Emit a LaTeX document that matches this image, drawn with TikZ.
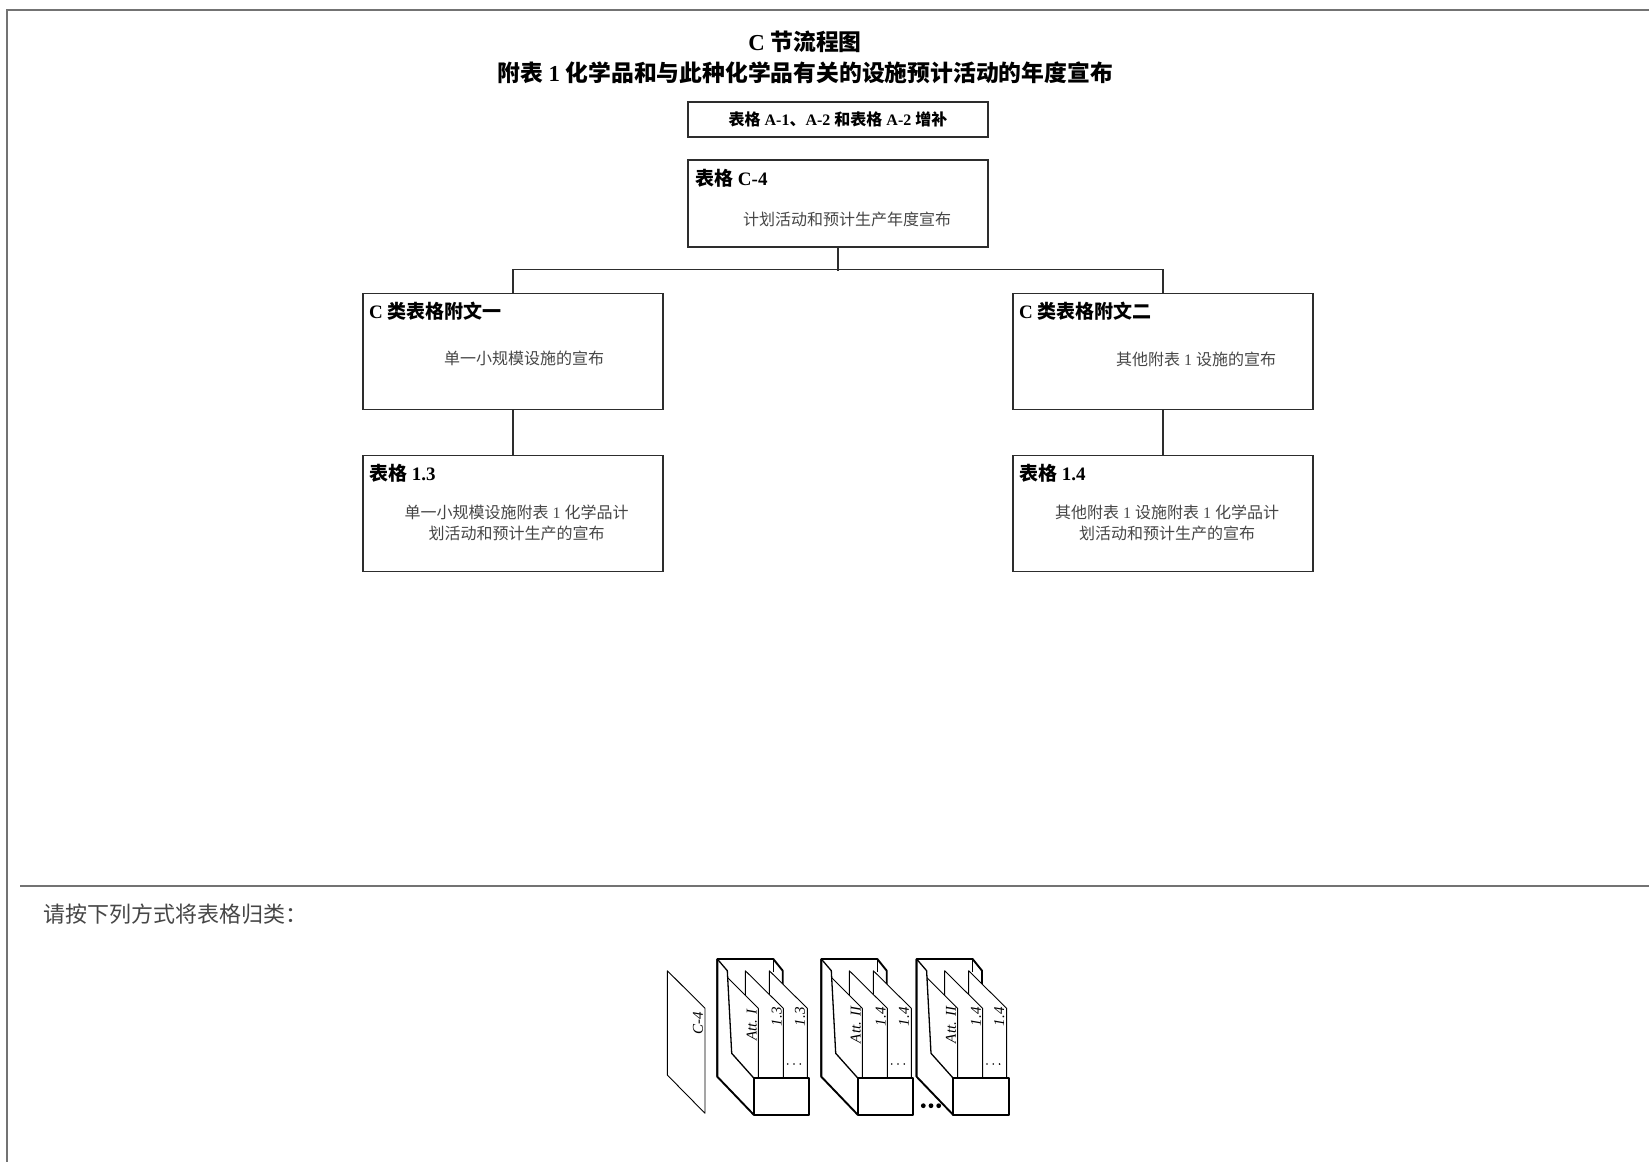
\documentclass[tikz,border=0pt]{standalone}
\usepackage{fontspec}
\setmainfont{Liberation Serif}
\newfontfamily\cjk{Noto Sans CJK SC}
\newcommand\zw[1]{{\cjk #1}}
\definecolor{ink}{RGB}{45,45,45}
\definecolor{rule}{RGB}{115,115,115}
\definecolor{bodytext}{RGB}{70,70,70}

\begin{document}
\begin{tikzpicture}[x=1pt,y=-1pt,
  box/.style={draw=ink, line width=1.3pt, minimum width=300pt, inner sep=0pt},
  head/.style={anchor=west, inner sep=0pt, font=\bfseries\fontsize{19}{23}\selectfont},
  body/.style={inner sep=0pt, text=bodytext, align=center, font=\fontsize{16}{21}\selectfont},
  link/.style={draw=ink, line width=1.3pt},
  fthick/.style={line width=1.9pt, line join=round},
  fthin/.style={line width=0.9pt, line join=round},
  sheet/.style={fthin, fill=white},
  tag/.style={inner sep=0pt, rotate=90, font=\itshape\fontsize{15}{17}\selectfont}
]
\fill[white] (0,0) rectangle (1649,1162);
\useasboundingbox (0,0) rectangle (1649,1162);

% page frame and separating rule
\draw[rule, line width=2pt] (1649,10) -- (7,10) -- (7,1162);
\draw[rule, line width=1.5pt] (20,886) -- (1649,886);

% titles
\node[inner sep=0pt, font=\bfseries\fontsize{22.8}{26}\selectfont] (t1) at (805,42) {C \zw{节流程图}};
\node[inner sep=0pt, font=\bfseries\fontsize{22.8}{26}\selectfont] (t2) at (805,73)
  {\zw{附表} 1 \zw{化学品和与此种化学品有关的设施预计活动的年度宣布}};

% flow boxes
\node[box, minimum height=35pt, font=\bfseries\fontsize{16}{20}\selectfont] (a12) at (838,119.5)
  {\zw{表格} A-1\zw{、}A-2 \zw{和表格} A-2 \zw{增补}};
\node[box, minimum height=87pt] (c4) at (838,203.5) {};
\node[box, minimum height=116pt] (att1) at (513,351.3) {};
\node[box, minimum height=116pt] (att2) at (1163,351.3) {};
\node[box, minimum height=116pt] (f13) at (513,513.8) {};
\node[box, minimum height=116pt] (f14) at (1163,513.8) {};

% box headings
\node[head] (c4h) at (695,178) {\zw{表格} C-4};
\node[head] (att1h) at (369,311) {C \zw{类表格附文一}};
\node[head] (att2h) at (1019,311) {C \zw{类表格附文二}};
\node[head] (f13h) at (369,473) {\zw{表格} 1.3};
\node[head] (f14h) at (1019,473) {\zw{表格} 1.4};

% box contents
\node[body] (c4b) at (847,219) {\zw{计划活动和预计生产年度宣布}};
\node[body] (att1b) at (524,358) {\zw{单一小规模设施的宣布}};
\node[body] (att2b) at (1196,359) {\zw{其他附表} 1 \zw{设施的宣布}};
\node[body] (f13b) at (516.5,522.5)
  {\zw{单一小规模设施附表} 1 \zw{化学品计}\\\zw{划活动和预计生产的宣布}};
\node[body] (f14b) at (1167,522.5)
  {\zw{其他附表} 1 \zw{设施附表} 1 \zw{化学品计}\\\zw{划活动和预计生产的宣布}};

% connectors
\draw[link] (c4.south) -- ++(0,23.5);
\draw[link] (att1.north) -- ++(0,-23) -| (att2.north);
\draw[link] (att1.south) -- (f13.north);
\draw[link] (att2.south) -- (f14.north);

% filing instruction
\node[anchor=west, inner sep=0pt, text=bodytext, font=\fontsize{22}{26}\selectfont] (note) at (43,914)
  {\zw{请按下列方式将表格归类：}};

% loose form C-4
\draw[sheet] (667.3,970.7) -- (705,1008.3) -- (705,1113.3) -- (667.3,1075) -- cycle;
\node[tag] (c4tag) at (698,1023) {C-4};

% magazine files with their forms
\foreach \dx/\la/\lb in {0/{Att. I}/1.3, 104/{Att. II}/1.4, 199.3/{Att. II}/1.4}{
  \begin{scope}[xshift=\dx pt]
    % back wall
    \draw[fthick] (717.3,1076.7) -- (717.3,959) -- (773.3,959) -- (782.7,970.7) -- (782.7,1000);
    \draw[fthin] (773.3,959) -- (773.3,972);
    % forms, back to front
    \draw[sheet] (769.3,970.7) -- (807.3,1008.3) -- (807.3,1078.3) -- (769.3,1078.3) -- cycle;
    \draw[sheet] (745.3,970.7) -- (783.3,1008.3) -- (783.3,1078.3) -- (745.3,1078.3) -- cycle;
    \draw[sheet] (727.3,977.3) -- (758.3,1008.3) -- (758.3,1078.3) -- (727.3,1078.3) -- cycle;
    % side wall
    \fill[white] (717.3,959) -- (727.3,970.7) -- (731.7,1053.3) -- (754,1078.3) -- (754,1115) -- (717.3,1076.7) -- cycle;
    \draw[line width=1.3pt, line join=round] (717.3,959) -- (727.3,970.7) -- (731.7,1053.3) -- (754,1078.3);
    \draw[fthick] (717.3,959) -- (717.3,1076.7) -- (754,1115);
    % front pocket
    \draw[fthick, fill=white] (754,1078.3) rectangle (809.3,1115);
    % labels
    \node[tag] at (751.7,1025) {\la};
    \node[tag] at (776.7,1016.7) {\lb};
    \node[tag] at (800,1016.7) {\lb};
    \foreach \k in {787.7,794,800.3} \fill (\k,1064) circle (0.9);
  \end{scope}
}
\foreach \k in {923.3,931,938.7} \fill (\k,1105.7) circle (2.4);
\end{tikzpicture}
\end{document}
